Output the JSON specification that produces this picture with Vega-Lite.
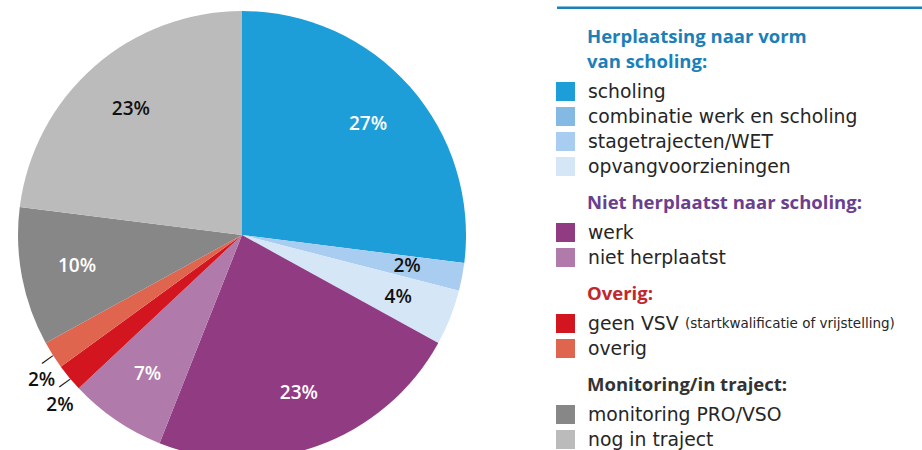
{
  "$schema": "https://vega.github.io/schema/vega-lite/v6.json",
  "padding": 0,
  "background": "#ffffff",
  "datasets": {
    "d": [
      {"cat": "scholing", "pct": 27, "grp": "g1", "nr": 1},
      {"cat": "combinatie werk en scholing", "pct": 0, "grp": "g1", "nr": 2},
      {"cat": "stagetrajecten/WET", "pct": 2, "grp": "g1", "nr": 3},
      {"cat": "opvangvoorzieningen", "pct": 4, "grp": "g1", "nr": 4},
      {"cat": "werk", "pct": 23, "grp": "g2", "nr": 5},
      {"cat": "niet herplaatst", "pct": 7, "grp": "g2", "nr": 6},
      {"cat": "geen VSV", "pct": 2, "grp": "g3", "nr": 7, "note": "(startkwalificatie of vrijstelling)"},
      {"cat": "overig", "pct": 2, "grp": "g3", "nr": 8},
      {"cat": "monitoring PRO/VSO", "pct": 10, "grp": "g4", "nr": 9},
      {"cat": "nog in traject", "pct": 23, "grp": "g4", "nr": 10}
    ]
  },
  "config": {
    "view": {"stroke": null},
    "title": {"anchor": "start", "dx": 31, "fontSize": 18.5, "fontWeight": "bold", "font": "Open Sans", "lineHeight": 24.5, "offset": 8}
  },
  "spacing": 57,
  "hconcat": [
    {
      "width": 484,
      "height": 450,
      "data": {"name": "d"},
      "encoding": {
        "theta": {"field": "pct", "type": "quantitative", "stack": true},
        "order": {"field": "nr", "type": "quantitative"}
      },
      "layer": [
        {
          "mark": {"type": "arc", "outerRadius": 224, "yOffset": 10, "clip": true},
          "encoding": {
            "color": {
              "field": "cat", "type": "nominal", "legend": null,
              "scale": {
                "domain": ["scholing", "combinatie werk en scholing", "stagetrajecten/WET", "opvangvoorzieningen", "werk", "niet herplaatst", "geen VSV", "overig", "monitoring PRO/VSO", "nog in traject"],
                "range": ["#1e9ed9", "#84b9e4", "#a9cdf0", "#d5e6f7", "#913c82", "#b07aab", "#d3151f", "#e0654f", "#878787", "#bbbbbb"]
              }
            }
          }
        },
        {
          "transform": [{"calculate": "datum.pct + '%'", "as": "lbl"}],
          "mark": {"type": "text", "radius": 168, "yOffset": 10, "font": "Open Sans", "fontSize": 19, "fontWeight": 600},
          "encoding": {
            "text": {"condition": {"test": "datum.pct > 0 && datum.cat != 'geen VSV' && datum.cat != 'overig'", "field": "lbl", "type": "nominal"}, "value": ""},
            "color": {"condition": {"test": "indexof(['scholing','werk','niet herplaatst','monitoring PRO/VSO'], datum.cat) >= 0", "value": "#ffffff"}, "value": "#111111"}
          }
        },
        {
          "transform": [{"calculate": "datum.pct + '%'", "as": "lbl"}],
          "mark": {"type": "text", "radius": 248, "yOffset": 10, "dx": 9, "dy": 12, "font": "Open Sans", "fontSize": 19, "fontWeight": 600, "color": "#111111"},
          "encoding": {
            "text": {"condition": {"test": "datum.cat == 'geen VSV' || datum.cat == 'overig'", "field": "lbl", "type": "nominal"}, "value": ""}
          }
        },
        {
          "mark": {"type": "text", "radius": 231, "yOffset": 10, "angle": 324, "font": "DejaVu Sans", "fontSize": 15, "color": "#111111"},
          "encoding": {
            "text": {"condition": {"test": "datum.cat == 'geen VSV' || datum.cat == 'overig'", "value": "—"}, "value": ""}
          }
        }
      ]
    },
    {
      "spacing": 14,
      "vconcat": [
        {
          "width": 365,
          "height": 14,
          "data": {"values": [{}]},
          "mark": {"type": "rule", "color": "#1b7fb8", "strokeWidth": 2.4},
          "encoding": {"y": {"datum": 0.45, "type": "quantitative", "scale": {"domain": [0, 1]}, "axis": null}}
        },
        {
          "width": 17,
          "height": {"step": 25},
          "title": {"text": ["Herplaatsing naar vorm", "van scholing:"], "color": "#1b7fb8"},
          "data": {"name": "d"},
          "transform": [{"filter": "datum.grp == 'g1'"}],
          "encoding": {"y": {"field": "cat", "type": "nominal", "sort": {"field": "nr", "op": "min"}, "axis": null}},
          "layer": [
            {"mark": {"type": "square", "size": 361, "opacity": 1},
             "encoding": {"color": {"field": "cat", "type": "nominal", "legend": null,
               "scale": {"domain": ["scholing", "combinatie werk en scholing", "stagetrajecten/WET", "opvangvoorzieningen", "werk", "niet herplaatst", "geen VSV", "overig", "monitoring PRO/VSO", "nog in traject"],
                         "range": ["#1e9ed9", "#84b9e4", "#a9cdf0", "#d5e6f7", "#913c82", "#b07aab", "#d3151f", "#e0654f", "#878787", "#bbbbbb"]}}}},
            {"mark": {"type": "text", "align": "left", "dx": 22.5, "font": "DejaVu Sans", "fontSize": 18.8, "color": "#262626"},
             "encoding": {"text": {"field": "cat", "type": "nominal"}}}
          ]
        },
        {
          "width": 17,
          "height": {"step": 25},
          "title": {"text": "Niet herplaatst naar scholing:", "color": "#6b3f8e"},
          "data": {"name": "d"},
          "transform": [{"filter": "datum.grp == 'g2'"}],
          "encoding": {"y": {"field": "cat", "type": "nominal", "sort": {"field": "nr", "op": "min"}, "axis": null}},
          "layer": [
            {"mark": {"type": "square", "size": 361, "opacity": 1},
             "encoding": {"color": {"field": "cat", "type": "nominal", "legend": null,
               "scale": {"domain": ["scholing", "combinatie werk en scholing", "stagetrajecten/WET", "opvangvoorzieningen", "werk", "niet herplaatst", "geen VSV", "overig", "monitoring PRO/VSO", "nog in traject"],
                         "range": ["#1e9ed9", "#84b9e4", "#a9cdf0", "#d5e6f7", "#913c82", "#b07aab", "#d3151f", "#e0654f", "#878787", "#bbbbbb"]}}}},
            {"mark": {"type": "text", "align": "left", "dx": 22.5, "font": "DejaVu Sans", "fontSize": 18.8, "color": "#262626"},
             "encoding": {"text": {"field": "cat", "type": "nominal"}}}
          ]
        },
        {
          "width": 17,
          "height": {"step": 25},
          "title": {"text": "Overig:", "color": "#c1272d"},
          "data": {"name": "d"},
          "transform": [{"filter": "datum.grp == 'g3'"}],
          "encoding": {"y": {"field": "cat", "type": "nominal", "sort": {"field": "nr", "op": "min"}, "axis": null}},
          "layer": [
            {"mark": {"type": "square", "size": 361, "opacity": 1},
             "encoding": {"color": {"field": "cat", "type": "nominal", "legend": null,
               "scale": {"domain": ["scholing", "combinatie werk en scholing", "stagetrajecten/WET", "opvangvoorzieningen", "werk", "niet herplaatst", "geen VSV", "overig", "monitoring PRO/VSO", "nog in traject"],
                         "range": ["#1e9ed9", "#84b9e4", "#a9cdf0", "#d5e6f7", "#913c82", "#b07aab", "#d3151f", "#e0654f", "#878787", "#bbbbbb"]}}}},
            {"mark": {"type": "text", "align": "left", "dx": 22.5, "font": "DejaVu Sans", "fontSize": 18.8, "color": "#262626"},
             "encoding": {"text": {"field": "cat", "type": "nominal"}}},
            {"transform": [{"filter": "datum.note != null"}],
             "mark": {"type": "text", "align": "left", "dx": 119.5, "font": "DejaVu Sans", "fontSize": 13.5, "color": "#262626"},
             "encoding": {"text": {"field": "note", "type": "nominal"}}}
          ]
        },
        {
          "width": 17,
          "height": {"step": 25},
          "title": {"text": "Monitoring/in traject:", "color": "#333333"},
          "data": {"name": "d"},
          "transform": [{"filter": "datum.grp == 'g4'"}],
          "encoding": {"y": {"field": "cat", "type": "nominal", "sort": {"field": "nr", "op": "min"}, "axis": null}},
          "layer": [
            {"mark": {"type": "square", "size": 361, "opacity": 1},
             "encoding": {"color": {"field": "cat", "type": "nominal", "legend": null,
               "scale": {"domain": ["scholing", "combinatie werk en scholing", "stagetrajecten/WET", "opvangvoorzieningen", "werk", "niet herplaatst", "geen VSV", "overig", "monitoring PRO/VSO", "nog in traject"],
                         "range": ["#1e9ed9", "#84b9e4", "#a9cdf0", "#d5e6f7", "#913c82", "#b07aab", "#d3151f", "#e0654f", "#878787", "#bbbbbb"]}}}},
            {"mark": {"type": "text", "align": "left", "dx": 22.5, "font": "DejaVu Sans", "fontSize": 18.8, "color": "#262626"},
             "encoding": {"text": {"field": "cat", "type": "nominal"}}}
          ]
        }
      ]
    }
  ]
}
